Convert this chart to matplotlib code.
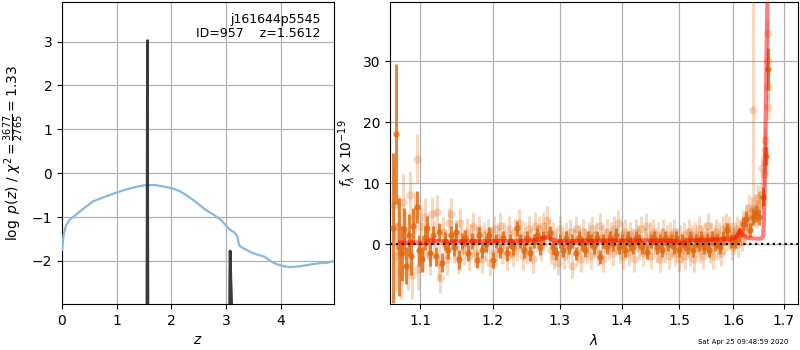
import numpy as np
import matplotlib
matplotlib.use("Agg")
import matplotlib.pyplot as plt
from matplotlib.ticker import FixedLocator, FixedFormatter, NullLocator

# ---------------- left panel data ----------------
z_chi = [0.0, 0.03, 0.07, 0.14, 0.25, 0.4, 0.57, 0.8, 1.0, 1.2, 1.4, 1.54, 1.7, 2.0, 2.15, 2.26,
         2.45, 2.62, 2.8, 2.92, 3.0, 3.07, 3.15, 3.2, 3.24, 3.3, 3.45, 3.58, 3.7, 3.76, 3.85,
         3.94, 4.05, 4.18, 4.35, 4.54, 4.7, 4.85, 4.97]
logp_chi = [-1.75, -1.4, -1.2, -1.06, -0.95, -0.8, -0.64, -0.53, -0.44, -0.36, -0.3, -0.27, -0.27,
            -0.34, -0.41, -0.49, -0.66, -0.83, -0.97, -1.08, -1.2, -1.29, -1.35, -1.44, -1.65,
            -1.7, -1.8, -1.86, -1.9, -1.96, -2.03, -2.08, -2.12, -2.14, -2.12, -2.08, -2.05,
            -2.04, -2.0]

z_pz = [1.530, 1.548, 1.556, 1.5612, 1.566, 1.574, 1.59, 3.04, 3.058, 3.066, 3.072, 3.085,
        3.10, 3.115, 3.13]
logpz = [-8.0, -5.0, -1.0, 3.02, -1.0, -5.0, -8.0, -8.0, -4.5, -2.4, -1.77, -2.4, -3.0,
         -4.5, -8.0]

# ---------------- right panel data ----------------
lam_model = [1.074, 1.100, 1.108, 1.114, 1.120, 1.150, 1.200, 1.250, 1.265, 1.280, 1.292,
             1.300, 1.350, 1.400, 1.450, 1.495, 1.505, 1.515, 1.550, 1.600, 1.606, 1.613,
             1.620, 1.630, 1.650, 1.655, 1.6585, 1.660, 1.662, 1.664, 1.666, 1.668]
flux_model = [0.3, 0.25, 0.15, 0.75, 0.5, 0.45, 0.5, 0.55, 0.7, 1.2, 0.6, 0.45, 0.55, 0.6,
              0.6, 0.5, 0.15, 0.6, 0.7, 0.9, 1.2, 2.3, 1.4, 1.0, 0.9, 0.95, 1.4, 4.0, 12.0,
              24.0, 36.0, 45.0]

lam_light = [1.066, 1.069, 1.072, 1.075, 1.078, 1.081, 1.084, 1.087, 1.090, 1.093, 1.0955,
             1.098, 1.101, 1.104, 1.107, 1.110, 1.113, 1.116, 1.119, 1.122, 1.125, 1.127,
             1.130, 1.133, 1.136, 1.139, 1.142, 1.145, 1.148, 1.151, 1.154, 1.157, 1.160,
             1.163, 1.166, 1.169, 1.172, 1.175, 1.178, 1.181, 1.184, 1.187, 1.190, 1.193,
             1.196, 1.199, 1.202, 1.205, 1.208, 1.211, 1.214, 1.217, 1.220, 1.223, 1.226,
             1.229, 1.232, 1.235, 1.238, 1.241, 1.244, 1.247, 1.250, 1.253, 1.256, 1.259,
             1.262, 1.265, 1.268, 1.271, 1.274, 1.277, 1.280, 1.283, 1.286, 1.289, 1.292,
             1.295, 1.298, 1.301, 1.304, 1.307, 1.310, 1.313, 1.316, 1.319, 1.322, 1.325,
             1.328, 1.331, 1.334, 1.337, 1.340, 1.343, 1.346, 1.349, 1.352, 1.355, 1.358,
             1.361, 1.364, 1.367, 1.370, 1.373, 1.376, 1.379, 1.382, 1.385, 1.388, 1.391,
             1.394, 1.397, 1.400, 1.403, 1.406, 1.409, 1.412, 1.415, 1.418, 1.421, 1.424,
             1.427, 1.430, 1.433, 1.436, 1.439, 1.442, 1.445, 1.448, 1.451, 1.454, 1.457,
             1.460, 1.463, 1.466, 1.469, 1.472, 1.475, 1.478, 1.481, 1.484, 1.487, 1.490,
             1.493, 1.496, 1.499, 1.502, 1.505, 1.508, 1.511, 1.514, 1.517, 1.520, 1.523,
             1.526, 1.529, 1.532, 1.535, 1.538, 1.541, 1.544, 1.547, 1.550, 1.553, 1.556,
             1.559, 1.562, 1.565, 1.568, 1.571, 1.574, 1.577, 1.580, 1.583, 1.586, 1.589,
             1.592, 1.595, 1.598, 1.601, 1.604, 1.607, 1.610, 1.613, 1.616, 1.619, 1.622,
             1.625, 1.628, 1.631, 1.634, 1.637, 1.639, 1.642, 1.645, 1.648, 1.651, 1.654,
             1.657, 1.6605, 1.6615, 1.662, 1.663, 1.6675, 1.6680, 1.6685, 1.669]
flux_light = [6.5, -2.0, 3.0, -4.5, 7.0, 1.5, -3.5, 8.0, -5.0, 5.0, 14.0,
              -4.0, 3.0, -1.5, 4.5, 0.5, -2.0, 5.0, 1.0, 5.2, -3.0, -5.5,
              2.0, 0.0, -2.5, 3.5, 5.0, -0.5, 1.5, -2.5, 3.5, 0.5, -1.0,
              2.0, -2.0, 1.0, 3.0, -1.5, 0.5, 2.5, -2.5, 1.5, -0.5, 2.0,
              -3.0, 0.5, 2.5, -1.5, 1.0, 3.0, -1.0, 1.5, -2.0, 2.5, 0.0,
              -1.5, 2.0, -0.5, 3.5, 1.0, -2.0, 1.5, -1.0, 2.5, 0.5, -2.5,
              3.0, 1.0, 2.5, -0.5, 3.0, 1.5, 4.0, 2.0, -1.0, 1.5, -2.0,
              0.5, -3.0, 2.5, 0.0, -2.0, 1.5, -1.0, 2.0, -3.5, 0.5, 2.5,
              -1.5, 1.0, -2.5, 2.0, 0.5, -1.0, 1.5, -2.0, 2.5, 0.0, 1.5,
              -1.5, 3.0, 1.0, -2.5, 0.5, 2.0, -0.5, 1.5, -1.5, 2.5, 0.5,
              3.5, -1.0, 1.5, -2.0, 2.0, 0.0, -1.5, 1.5, 0.5, -2.5, 2.0,
              1.0, -0.5, 2.5, -1.5, 0.5, 3.0, -0.5, 1.5, -2.0, 2.0, 0.5,
              -1.0, 1.5, -2.5, 0.5, 2.0, -1.0, 1.0, -2.0, 1.5, 0.0, 2.0,
              -1.5, 0.5, -2.5, 1.0, -1.0, 1.5, -2.0, 0.5, 2.0, -1.5, 1.0,
              -2.5, 1.5, 0.0, 2.5, -1.0, 1.0, -2.0, 1.5, 0.5, 3.0, -1.0,
              1.5, -2.0, 1.0, 2.0, -0.5, 1.5, -1.5, 2.5, 0.5, 3.0, 1.0,
              2.5, 1.5, -0.5, 0.5, 1.5, 2.5, 0.0, 2.0, 1.0, 3.5, 2.0,
              4.5, 3.0, 6.0, 4.0, 5.5, 22.0, 6.0, 5.0, 7.5, 6.5, 8.0,
              12.5, 11.5, 13.5, 17.0, 15.5, 22.5, 25.7, 34.6, 30.0]
err_light = [6.0, 5.5, 5.0, 4.5, 4.5, 4.0, 4.0, 4.0, 4.0, 3.5, 4.0,
             3.5, 3.5, 3.0, 3.0, 3.0, 3.0, 2.8, 2.8, 2.8, 2.8, 2.5,
             2.5, 2.5, 2.5, 2.5, 2.5, 2.5, 2.4, 2.4, 2.4, 2.4, 2.4,
             2.3, 2.3, 2.3, 2.3, 2.3, 2.3, 2.2, 2.2, 2.2, 2.2, 2.2,
             2.2, 2.2, 2.2, 2.2, 2.2, 2.2, 2.2, 2.2, 2.2, 2.2, 2.2,
             2.2, 2.2, 2.2, 2.2, 2.2, 2.2, 2.2, 2.2, 2.2, 2.2, 2.2,
             2.2, 2.2, 2.2, 2.2, 2.2, 2.2, 2.2, 2.2, 2.2, 2.2, 2.1,
             2.1, 2.1, 2.1, 2.1, 2.1, 2.1, 2.1, 2.1, 2.1, 2.1, 2.1,
             2.1, 2.1, 2.1, 2.1, 2.1, 2.1, 2.1, 2.1, 2.1, 2.1, 2.1,
             2.1, 2.1, 2.1, 2.1, 2.1, 2.1, 2.1, 2.1, 2.1, 2.1, 2.1,
             2.1, 2.1, 2.1, 2.1, 2.1, 2.1, 2.1, 2.1, 2.1, 2.1, 2.1,
             2.1, 2.1, 2.1, 2.1, 2.1, 2.1, 2.1, 2.1, 2.1, 2.1, 2.1,
             2.1, 2.1, 2.1, 2.1, 2.1, 2.1, 2.1, 2.1, 2.1, 2.1, 2.1,
             2.1, 2.1, 2.1, 2.1, 2.1, 2.1, 2.1, 2.1, 2.1, 2.1, 2.1,
             2.1, 2.1, 2.1, 2.1, 2.1, 2.1, 2.1, 2.1, 2.1, 2.1, 2.1,
             2.1, 2.1, 2.1, 2.1, 2.1, 2.1, 2.1, 2.1, 2.1, 2.1, 2.1,
             2.1, 2.1, 2.1, 2.1, 2.1, 2.1, 2.1, 2.1, 2.1, 2.1, 2.1,
             2.1, 2.1, 2.1, 2.1, 2.2, 19.0, 2.2, 2.2, 2.2, 2.2, 2.2,
             2.2, 2.2, 2.2, 2.2, 2.2, 2.2, 2.2, 2.2, 2.2]

lam_dark = [1.0655, 1.0689, 1.0725, 1.0760, 1.0790, 1.0820, 1.0850, 1.0880, 1.0910, 1.0958,
            1.0990, 1.1030, 1.1060, 1.1095, 1.1130, 1.1170, 1.1210, 1.1250, 1.1290, 1.1330,
            1.1370, 1.1410, 1.1450, 1.1490, 1.1530, 1.1570, 1.1610, 1.1650, 1.1700, 1.1771,
            1.1800, 1.1850, 1.1900, 1.1950, 1.2005, 1.2050, 1.2100, 1.2150, 1.2200, 1.2250,
            1.2300, 1.2350, 1.2400, 1.2450, 1.2500, 1.2550, 1.2600, 1.2650, 1.2700, 1.2750,
            1.2850, 1.2900, 1.2950, 1.3000, 1.3050, 1.3100, 1.3150, 1.3200, 1.3250, 1.3300,
            1.3350, 1.3400, 1.3450, 1.3500, 1.3550, 1.3600, 1.3650, 1.3700, 1.3750, 1.3800,
            1.3850, 1.3900, 1.3950, 1.4000, 1.4050, 1.4100, 1.4150, 1.4200, 1.4250, 1.4300,
            1.4350, 1.4430, 1.4500, 1.4550, 1.4600, 1.4650, 1.4700, 1.4750, 1.4800, 1.4850,
            1.4900, 1.4950, 1.5000, 1.5050, 1.5100, 1.5150, 1.5200, 1.5250, 1.5300, 1.5350,
            1.5400, 1.5450, 1.5500, 1.5550, 1.5600, 1.5650, 1.5700, 1.5750, 1.5800, 1.5880,
            1.5950, 1.6030, 1.6120, 1.6190, 1.6250, 1.6321, 1.6380, 1.6448, 1.6500, 1.6574,
            1.6636, 1.6686]
flux_dark = [2.6, 18.1, -0.5, -1.5, 2.5, -3.5, 1.5, -2.0, 3.0, 6.1,
             -1.0, -2.5, 1.0, 2.6, -1.5, 1.5, -2.0, 2.0, -3.0, 0.5,
             -1.0, 1.5, -0.5, 2.0, -2.5, 0.5, 1.0, -1.5, 0.5, -2.6,
             1.5, -1.0, 0.0, 1.5, -2.6, 0.5, -1.0, 1.0, -1.5, 0.5,
             -0.5, 2.6, 0.5, -1.0, 1.0, -1.5, 0.5, 1.5, -0.5, 1.0,
             1.8, -0.5, -1.5, 0.5, -1.0, 1.0, -0.5, 0.5, -1.5, 1.0,
             0.0, -1.0, 1.0, 0.5, -0.5, 1.0, -2.1, 0.5, -0.5, 1.0,
             0.0, 1.5, -0.5, 0.5, -1.0, 1.0, 0.0, -0.5, 1.0, 0.5,
             -0.5, -1.3, 0.5, 1.0, -0.5, 0.5, -1.0, 1.0, 0.0, 0.5,
             -0.5, 1.0, -1.0, 0.5, 0.0, -0.5, 1.0, -1.0, 0.5, 0.0,
             1.0, -0.5, 0.5, -1.0, 1.0, 0.0, 0.5, -0.5, 1.0, 2.3,
             0.5, 0.5, 1.5, 3.3, 4.2, 2.3, 4.5, 5.0, 4.5, 7.8,
             14.5, 28.7]
err_dark = [12.3, 11.5, 8.0, 4.5, 3.5, 3.0, 3.5, 3.0, 3.0, 2.7,
            2.5, 2.0, 2.0, 2.0, 2.0, 1.5, 1.5, 1.5, 1.5, 1.5,
            1.5, 1.5, 1.5, 1.5, 1.5, 1.3, 1.3, 1.3, 1.3, 1.3,
            1.3, 1.3, 1.3, 1.3, 1.3, 1.2, 1.2, 1.2, 1.2, 1.2,
            1.2, 1.2, 1.2, 1.2, 1.2, 1.2, 1.2, 1.2, 1.2, 1.2,
            1.2, 1.1, 1.1, 1.1, 1.1, 1.1, 1.1, 1.1, 1.1, 1.1,
            1.1, 1.1, 1.1, 1.1, 1.1, 1.1, 1.1, 1.1, 1.1, 1.1,
            1.1, 1.1, 1.1, 1.1, 1.1, 1.1, 1.1, 1.1, 1.1, 1.1,
            1.1, 1.1, 1.1, 1.1, 1.1, 1.1, 1.1, 1.1, 1.1, 1.1,
            1.1, 1.1, 1.1, 1.1, 1.1, 1.1, 1.1, 1.1, 1.1, 1.1,
            1.1, 1.1, 1.1, 1.1, 1.1, 1.1, 1.1, 1.1, 1.1, 1.1,
            1.1, 1.1, 1.1, 1.2, 1.3, 1.2, 1.3, 1.3, 1.3, 1.5,
            1.5, 3.5]

lam_ticks = [1.1, 1.2, 1.3, 1.4, 1.5, 1.6, 1.7]
lam_ticklabels = ['1.1', '1.2', '1.3', '1.4', '1.5', '1.6', '1.7']

obj_name = 'j161644p5545'
obj_info = 'ID=957    z=1.5612'
stamp = 'Sat Apr 25 09:48:59 2020'

# ---------------- figure ----------------
fig = plt.figure(figsize=(8, 3.5), dpi=100)
ax1 = fig.add_axes([62/800, 46/350, 272/800, 302/350])
ax2 = fig.add_axes([390/800, 46/350, 408/800, 302/350])

ax1.plot(z_chi, logp_chi, color='#8ab8db', lw=1.6, zorder=3)
ax1.plot(z_pz, logpz, color='#3a3a3a', lw=2.0, zorder=4)
ax1.set_xlim(0, 4.97)
ax1.set_ylim(-2.98, 3.9)
ax1.set_xticks([0, 1, 2, 3, 4])
ax1.set_yticks([-2, -1, 0, 1, 2, 3])
ax1.grid(True, color='#b0b0b0', lw=0.9)
ax1.set_axisbelow(True)
ax1.set_xlabel(r'$z$', fontsize=10)
ax1.set_ylabel(r'$\log\ p(z)$ / $\chi^2=\frac{3677}{2765}=1.33$', fontsize=10)
ax1.text(0.95, 0.965, obj_name + '\n' + obj_info, transform=ax1.transAxes,
         ha='right', va='top', fontsize=9, linespacing=1.1)

col = '#e0680f'
ax2.errorbar(lam_light, flux_light, yerr=err_light, color=col, alpha=0.25,
             marker='o', ms=6, lw=2.2, ls='none', mec='none', zorder=3)
ax2.errorbar(lam_dark, flux_dark, yerr=err_dark, color=col, alpha=0.8,
             marker='o', ms=4.5, lw=2.2, ls='none', mec='none', zorder=4)
ax2.plot(lam_model, flux_model, color='red', alpha=0.5, lw=3, zorder=6)
ax2.axhline(0, color='k', ls=':', lw=1.6, zorder=5)
ax2.set_xscale('log')
ax2.set_xlim(1.0612, 1.729)
ax2.set_ylim(-9.8, 39.7)
ax2.xaxis.set_major_locator(FixedLocator(lam_ticks))
ax2.xaxis.set_major_formatter(FixedFormatter(lam_ticklabels))
ax2.xaxis.set_minor_locator(NullLocator())
ax2.set_yticks([0, 10, 20, 30])
ax2.grid(True, color='#b0b0b0', lw=0.9)
ax2.set_axisbelow(True)
ax2.set_xlabel(r'$\lambda$', fontsize=10)
ax2.set_ylabel(r'$f_\lambda \times 10^{-19}$', fontsize=10)

fig.text(0.985, 0.022, stamp, ha='right', va='center', fontsize=5)

fig.savefig('out.png', dpi=100)
